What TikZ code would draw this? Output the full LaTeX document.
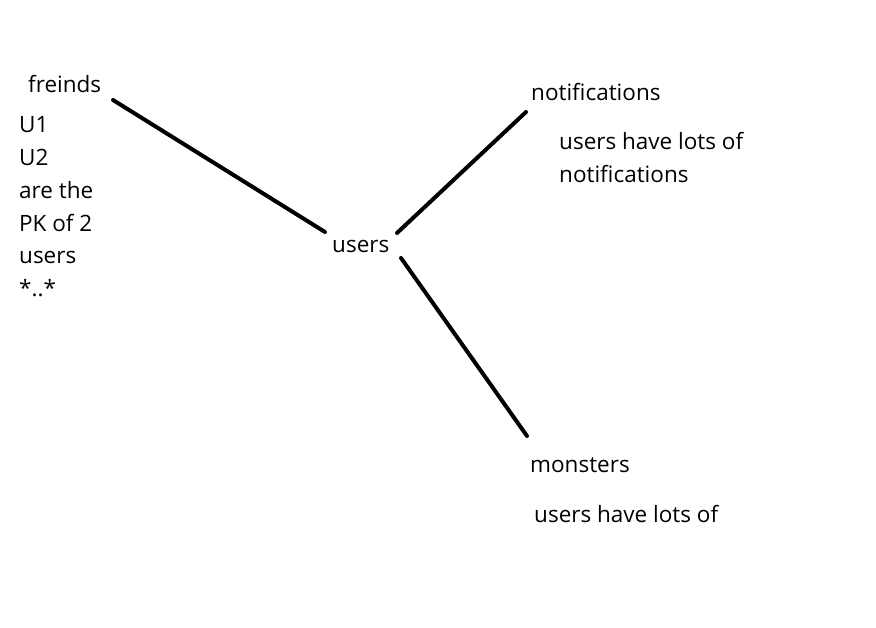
\documentclass[tikz,border=0pt]{standalone}
\usepackage{fontspec}
\setmainfont{Open Sans}
\begin{document}
\begin{tikzpicture}[x=1pt,y=-1pt,
  lbl/.style={anchor=base west,inner sep=0pt,font=\fontsize{22.5}{26}\selectfont},
  conn/.style={line width=4pt,line cap=round}]
\useasboundingbox[fill=white] (0,0) rectangle (876,628);
\node[lbl] (fr) at (28,93) {freinds};
\node[lbl] (u1) at (19,133) {U1};
\node[lbl] (u2) at (19,166) {U2};
\node[lbl] (a1) at (19,199) {are the};
\node[lbl] (a2) at (19,232) {PK of 2};
\node[lbl] (a3) at (19,264) {users};
\node[lbl] (a4) at (19,297) {*..*};
\node[lbl] (us) at (332,253) {users};
\node[lbl] (no) at (531,101) {notifications};
\node[lbl] (n1) at (559,150) {users have lots of};
\node[lbl] (n2) at (559,183) {notifications};
\node[lbl] (mo) at (530,472) {monsters};
\node[lbl] (m1) at (534,522) {users have lots of};
\coordinate (fe) at (113,100);
\coordinate (ua) at (325,232);
\coordinate (ub) at (397,233);
\coordinate (ne) at (526,112);
\coordinate (uc) at (401,258);
\coordinate (me) at (527,436);
\draw[conn] (fe) -- (ua);
\draw[conn] (ub) -- (ne);
\draw[conn] (uc) -- (me);
\end{tikzpicture}
\end{document}
